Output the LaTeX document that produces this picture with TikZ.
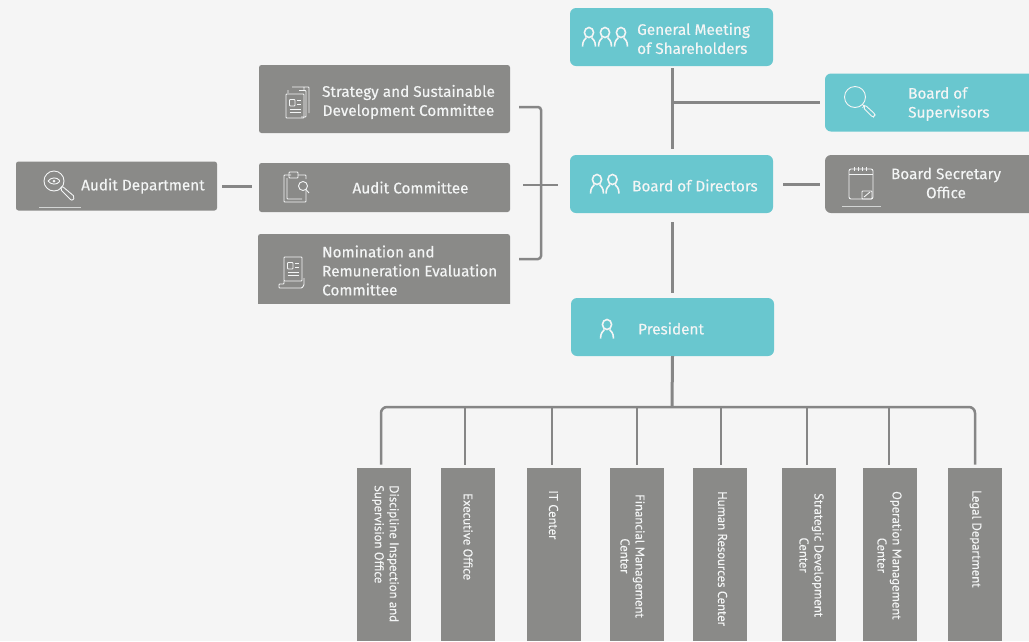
\documentclass[tikz,border=0pt]{standalone}
\usepackage{fontspec}
\setmainfont{PT Sans}
\newfontfamily\boxfont[FakeBold=0.25]{Fira Sans}
\newfontfamily\deptfont[FakeBold=0.25]{PT Sans}
\usetikzlibrary{positioning}
\definecolor{pagegray}{HTML}{F5F5F5}
\definecolor{boxteal}{HTML}{69C7CF}
\definecolor{boxgray}{HTML}{8A8A88}
\definecolor{linkgray}{HTML}{868686}
\definecolor{inkwhite}{HTML}{F3F5F5}
\tikzset{
  tealbox/.style={fill=boxteal, rounded corners=6pt, minimum height=58pt, inner sep=0pt},
  graybox/.style={fill=boxgray, rounded corners=2.5pt, inner sep=0pt},
  deptbox/.style={fill=boxgray, minimum width=54pt, minimum height=173pt, inner sep=0pt},
  boxtext/.style={text=inkwhite, font=\boxfont\fontsize{15.3}{19}\selectfont, inner sep=0pt},
  depttext/.style={text=inkwhite, font=\deptfont\fontsize{12.7}{15}\selectfont, rotate=-90, anchor=west, align=center, inner sep=0pt},
  link/.style={draw=linkgray, line width=3pt},
  thinlink/.style={draw=linkgray, line width=2.5pt},
  icon/.style={draw=inkwhite, line width=.9pt, rounded corners=.8pt},
  person/.pic={
    \draw[inkwhite, line width=1.6pt] (0,-4.5) circle [x radius=4.6, y radius=5];
    \draw[inkwhite, line width=1.6pt] (-6.5,9.5) .. controls (-6.5,4) and (-4,2) .. (-2.5,.5);
    \draw[inkwhite, line width=1.6pt] (6.5,9.5) .. controls (6.5,4) and (4,2) .. (2.5,.5);
  },
  lens/.pic={
    \draw[icon] (0,0) circle [radius=10.5];
    \draw[icon] (7.5,7.5) -- (9.5,9.5);
    \draw[icon, rounded corners=2pt] (10,8) -- (20.5,17.5) -- (18,20.5) -- (8,10.5) -- cycle;
  },
  sheet/.pic={
    \draw[icon] (-9,-12) rectangle (9,12);
    \draw[icon] (-5.5,-6.5) rectangle (0,0);
    \draw[icon] (2,-5.5) -- (6,-5.5) (2,-2) -- (6,-2) (-5.5,3) -- (6,3) (-5.5,6.5) -- (6,6.5);
  }
}
\begin{document}
\begin{tikzpicture}[x=1pt, y=-1pt]
  \fill[pagegray] (0,0) rectangle (1029,641);
  \clip (0,0) rectangle (1029,641);
  \useasboundingbox (0,0) rectangle (1029,641);

  % top boxes
  \node[tealbox, minimum width=203pt] (meeting) at (671.5,37) {};
  \node[tealbox, minimum width=216pt] (supervisors) at (933,102.5) {};
  \node[tealbox, minimum width=203pt] (directors) at (671.5,184) {};
  \node[graybox, rounded corners=6pt, minimum width=216pt, minimum height=58pt] (secretary) at (933,184) {};
  \node[tealbox, minimum width=203pt] (president) at (672.5,327) {};

  % left boxes
  \node[graybox, minimum width=251pt, minimum height=68pt] (strategy) at (384.5,99) {};
  \node[graybox, minimum width=251pt, minimum height=49pt] (auditcom) at (384.5,187.5) {};
  \node[graybox, minimum width=201pt, minimum height=49pt] (auditdep) at (116.5,186) {};
  \begin{scope}
    \clip (250,225) rectangle (520,303.5);
    \node[graybox, minimum width=252pt, minimum height=80pt] (nomination) at (384,274) {};
  \end{scope}

  \node[boxtext, anchor=west, align=left] (meetingtext) at (637,38.5) {General Meeting\\of Shareholders};
  \node[boxtext, anchor=west, align=left] (supervisorstext) at (908,104) {Board of\\Supervisors};
  \node[boxtext, anchor=west] (directorstext) at (632,185.5) {Board of Directors};
  \node[boxtext, align=center] (secretarytext) at (946,183) {Board Secretary\\Office};
  \node[boxtext, anchor=west] (presidenttext) at (638,328.5) {President};
  \node[boxtext, align=center] (strategytext) at (408.5,102) {Strategy and Sustainable\\Development Committee};
  \node[boxtext] (auditcomtext) at (410.5,187.5) {Audit Committee};
  \node[boxtext, anchor=west] (auditdeptext) at (81,186) {Audit Department};
  \node[boxtext, anchor=west, align=left] (nominationtext) at (322,270.5) {Nomination and\\Remuneration Evaluation\\Committee};

  % department boxes
  \foreach \name/\boxx in {dis/384, exe/468, itc/554, fin/637, hum/719.5, str/809, opr/890, leg/975}
    \node[deptbox] (\name) at (\boxx,554.5) {};

  % drops from the bus
  \coordinate (busmid) at (672,407);
  \coordinate (dropdis) at (381,464.5);
  \coordinate (dropleg) at (975,464.5);
  \foreach \name/\dropx in {exe/465, itc/552, fin/637, hum/721, str/807, opr/889} {
    \coordinate (bus\name) at (\dropx,407);
    \coordinate (drop\name) at (\dropx,464.5);
    \draw[thinlink] (bus\name) -- (drop\name);
  }
  \draw[thinlink, rounded corners=6pt] (dropdis) |- (busmid) -| (dropleg);
  \draw[link] (president.south) -- (busmid);

  \node[depttext, align=left] (distext) at (385.5,485) {Discipline Inspection and\\Supervision Office};
  \node[depttext] (exetext) at (468,493) {Executive Office};
  \node[depttext] (itctext) at (553.5,490) {IT Center};
  \node[depttext] (fintext) at (632.5,494) {Financial Management\\Center};
  \node[depttext] (humtext) at (722.5,491) {Human Resources Center};
  \node[depttext] (strtext) at (811.5,493) {Strategic Development\\Center};
  \node[depttext] (oprtext) at (889.5,491) {Operation Management\\Center};
  \node[depttext] (legtext) at (975.5,490) {Legal Department};

  % connectors with a gap at the boxes
  \coordinate (meetingfoot) at (672,68);
  \coordinate (directorshead) at (672,149);
  \coordinate (directorsfoot) at (672,222);
  \coordinate (presidenthead) at (672,293);
  \coordinate (tee) at (672,102);
  \coordinate (supervisorsend) at (820,102);
  \coordinate (secretarystart) at (783,184.5);
  \coordinate (secretaryend) at (820,184.5);
  \coordinate (bracketin) at (523,185);
  \coordinate (bracketout) at (558,185);
  \coordinate (bracketa) at (519,107);
  \coordinate (bracketb) at (519,259);
  \coordinate (bracketx) at (541,185);
  \coordinate (auditstart) at (222,186.5);
  \coordinate (auditend) at (252,186.5);
  \draw[link] (meetingfoot) -- (directorshead);
  \draw[link] (tee) -- (supervisorsend);
  \draw[link] (directorsfoot) -- (presidenthead);
  \draw[link] (secretarystart) -- (secretaryend);
  \draw[thinlink] (bracketin) -- (bracketout);
  \draw[thinlink, rounded corners=3pt] (bracketa) -| (bracketx) |- (bracketb);
  \draw[thinlink] (auditstart) -- (auditend);

  % icons
  \foreach \px in {589,605,621} \pic at (\px,37) {person};
  \foreach \px in {597,612.5} \pic at (\px,184) {person};
  \pic at (607,329) {person};
  \pic at (855,97) {lens};
  \pic at (295,106) {sheet};
  \draw[icon] (288,90) -- (288,93) (292,87) -- (309,87) -- (309,113) (304,87) -- (304,91) (299,90.5) -- (306,90.5) -- (306,117) -- (301,117);
  % clipboard
  \draw[icon] (291,175) -- (284,175) -- (284,202) -- (306,202) -- (306,190);
  \draw[icon] (287,178) -- (287,199) -- (302,199);
  \draw[icon] (289,172) rectangle (298,178);
  \draw[icon] (298,175) -- (306,175) -- (306,179);
  \draw[icon] (303,186) circle [radius=4.5];
  \draw[icon] (306,189.5) -- (309,193);
  % scroll
  \pic at (293,269) {sheet};
  \draw[icon] (284,281) -- (284,284) -- (279,284) -- (279,288) -- (302,288) -- (304,285) -- (304,278);
  % eye lens
  \draw[icon] (54,181) circle [radius=10];
  \draw[icon] (48,181) .. controls (51,177) and (57,177) .. (60,181) .. controls (57,185) and (51,185) .. (48,181);
  \fill[inkwhite] (54,181) circle [radius=1.5];
  \draw[icon, rounded corners=2pt] (62,186) -- (75,197) -- (72,201) -- (60,189) -- cycle;
  \draw[inkwhite!70!boxgray, line width=1pt] (39,207.5) -- (81,207.5);
  % notepad
  \draw[icon, rounded corners=2pt] (849,169) rectangle (873,199);
  \draw[icon] (849,174) -- (873,174);
  \foreach \tx in {854,858,862,866} \draw[icon] (\tx,167) -- (\tx,171);
  \draw[icon] (862,191) rectangle (872,199);
  \draw[icon] (864,197) -- (870,192);
  \draw[inkwhite!70!boxgray, line width=1pt] (842,206) -- (881,206);
\end{tikzpicture}
\end{document}
